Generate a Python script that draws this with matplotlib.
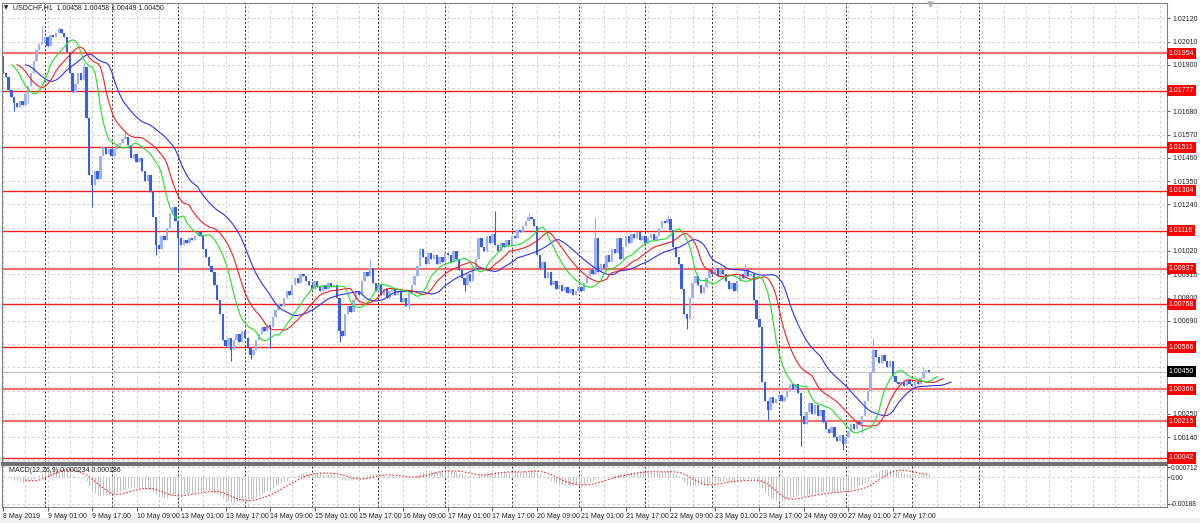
import matplotlib
matplotlib.use('Agg')
import matplotlib.pyplot as plt
import matplotlib.transforms as mtransforms
import numpy as np
import pandas as pd

# ---------------------------------------------------------------------------
# data
header_text = 'USDCHF,H1  1.00458 1.00458 1.00449 1.00450'
macd_text = 'MACD(12,26,9) 0.000234 0.000186'

first_open = 1.0194
closes = [
    1.0186, 1.0184, 1.0178, 1.0175, 1.0172, 1.0170, 1.0173, 1.0171, 1.0176, 1.0180,
    1.0186, 1.0192, 1.0197, 1.0200, 1.0201, 1.0203, 1.0199, 1.0204, 1.0203, 1.0205,
    1.0207, 1.0205, 1.0203, 1.0196, 1.0186, 1.0177, 1.0181, 1.0186, 1.0183, 1.0189,
    1.0165, 1.0138, 1.0133, 1.0140, 1.0136, 1.0147, 1.0151, 1.0148, 1.0150, 1.0147,
    1.0150, 1.0152, 1.0153, 1.0155, 1.0156, 1.0152, 1.0146, 1.0148, 1.0144, 1.0146,
    1.0140, 1.0135, 1.0138, 1.0130, 1.0118, 1.0105, 1.0103, 1.0109, 1.0107, 1.0113,
    1.0120, 1.0123, 1.0116, 1.0108, 1.0105, 1.0107, 1.0106, 1.0108, 1.0107, 1.0109,
    1.0111, 1.0109, 1.0103, 1.0099, 1.0095, 1.0092, 1.0086, 1.0079, 1.0072, 1.0060,
    1.0057, 1.0061, 1.0055, 1.0060, 1.0063, 1.0059, 1.0064, 1.0061, 1.0056, 1.0053,
    1.0055, 1.0060, 1.0063, 1.0066, 1.0064, 1.0067, 1.0066, 1.0071, 1.0074, 1.0077,
    1.0076, 1.0080, 1.0083, 1.0081, 1.0086, 1.0089, 1.0087, 1.0091, 1.0090, 1.0088,
    1.0086, 1.0084, 1.0088, 1.0085, 1.0083, 1.0086, 1.0084, 1.0087, 1.0085, 1.0086,
    1.0080, 1.0064, 1.0062, 1.0072, 1.0076, 1.0073, 1.0079, 1.0083, 1.0081, 1.0088,
    1.0092, 1.0090, 1.0094, 1.0087, 1.0083, 1.0086, 1.0081, 1.0084, 1.0080, 1.0083,
    1.0084, 1.0081, 1.0083, 1.0078, 1.0080, 1.0076, 1.0082, 1.0086, 1.0090, 1.0095,
    1.0103, 1.0099, 1.0096, 1.0101, 1.0098, 1.0100, 1.0096, 1.0099, 1.0097, 1.0101,
    1.0100, 1.0097, 1.0102, 1.0098, 1.0093, 1.0089, 1.0086, 1.0091, 1.0088, 1.0093,
    1.0098, 1.0108, 1.0104, 1.0102, 1.0109, 1.0106, 1.0110, 1.0105, 1.0102, 1.0106,
    1.0104, 1.0107, 1.0105, 1.0109, 1.0108, 1.0112, 1.0111, 1.0114, 1.0116, 1.0118,
    1.0117, 1.0114, 1.0100, 1.0094, 1.0097, 1.0089, 1.0092, 1.0086, 1.0088, 1.0084,
    1.0086, 1.0083, 1.0085, 1.0082, 1.0084, 1.0081, 1.0083, 1.0085, 1.0083, 1.0087,
    1.0090, 1.0093, 1.0091, 1.0108, 1.0092, 1.0096, 1.0094, 1.0100, 1.0097, 1.0103,
    1.0101, 1.0108, 1.0098, 1.0104, 1.0109, 1.0106, 1.0110, 1.0108, 1.0111, 1.0107,
    1.0109, 1.0106, 1.0108, 1.0110, 1.0107, 1.0109, 1.0113, 1.0116, 1.0115, 1.0117,
    1.0112, 1.0104, 1.0099, 1.0096, 1.0084, 1.0072, 1.0070, 1.0080, 1.0087, 1.0090,
    1.0086, 1.0082, 1.0085, 1.0089, 1.0093, 1.0091, 1.0094, 1.0090, 1.0093, 1.0091,
    1.0088, 1.0084, 1.0087, 1.0083, 1.0088, 1.0091, 1.0089, 1.0093, 1.0090, 1.0091,
    1.0079, 1.0070, 1.0066, 1.0040, 1.0031, 1.0027, 1.0033, 1.0030, 1.0032, 1.0034,
    1.0031, 1.0033, 1.0036, 1.0039, 1.0037, 1.0039, 1.0035, 1.0024, 1.0020, 1.0026,
    1.0030, 1.0025, 1.0029, 1.0024, 1.0027, 1.0021, 1.0018, 1.0016, 1.0019, 1.0014,
    1.0012, 1.0015, 1.0011, 1.0014, 1.0017, 1.0020, 1.0018, 1.0021, 1.0020, 1.0024,
    1.0031, 1.0036, 1.0045, 1.0055, 1.0052, 1.0049, 1.0053, 1.0050, 1.0047, 1.0050,
    1.0043, 1.0040, 1.0039, 1.0040, 1.0038, 1.0041, 1.0039, 1.0038, 1.0040, 1.0039,
    1.0042, 1.0045, 1.00458, 1.00450,
]

# long wicks that stick out of the bodies (bar index -> price)
spike_highs = {14: 1.0209, 20: 1.0208, 29: 1.0191, 44: 1.0158, 132: 1.0098,
               177: 1.0121, 189: 1.0120, 213: 1.0118, 239: 1.0119, 267: 1.0096,
               313: 1.0061, 331: 1.0047}
spike_lows = {4: 1.0168, 9: 1.0172, 32: 1.0123, 55: 1.0100, 63: 1.0092,
              82: 1.0050, 89: 1.0051, 96: 1.0056, 121: 1.0059, 146: 1.0074,
              166: 1.0083, 246: 1.0065, 275: 1.0022, 287: 1.0010, 302: 1.0008,
              309: 1.0016}

# horizontal levels drawn on the chart
levels = [1.01954, 1.01777, 1.01511, 1.01304, 1.01116, 1.00937,
          1.00768, 1.00566, 1.00366, 1.00215, 1.00042]
soft_levels = [1.01954, 1.00937, 1.00366, 1.00215]
bid_price = 1.00450

price_ticks = [1.02120, 1.02010, 1.01900, 1.01790, 1.01680, 1.01570, 1.01460,
               1.01350, 1.01240, 1.01130, 1.01020, 1.00910, 1.00800, 1.00690,
               1.00580, 1.00470, 1.00360, 1.00250, 1.00140, 1.00030]
macd_ticks = [0.000712, 0.0, -0.00188]
macd_tick_labels = ['0.000712', '0.00', '-0.00188']

# hourly bars, weekdays only
times = pd.date_range('2019-05-08 09:00', '2019-05-28 06:00', freq='h')
times = times[times.dayofweek < 5]

# ---------------------------------------------------------------------------
c = np.array(closes)
o = np.array([first_open] + closes[:-1])
n = len(c)
x = np.arange(n)
hi = np.maximum(o, c)
lo = np.minimum(o, c)
for k, v in spike_highs.items():
    hi[k] = max(hi[k], v)
for k, v in spike_lows.items():
    lo[k] = min(lo[k], v)

# alligator (SMMA of median price, shifted forward)
median = pd.Series((hi + lo) / 2)
jaw = median.ewm(alpha=1 / 13, adjust=False).mean()
teeth = median.ewm(alpha=1 / 8, adjust=False).mean()
lips = median.ewm(alpha=1 / 5, adjust=False).mean()

# MACD 12/26/9
cs = pd.Series(c)
macd_main = cs.ewm(span=12, adjust=False).mean() - cs.ewm(span=26, adjust=False).mean()
macd_signal = macd_main.rolling(9).mean()

plt.rcParams['font.family'] = ['Liberation Sans', 'DejaVu Sans']

W, H = 1200, 523
fig = plt.figure(figsize=(12, 5.23), dpi=100)
fig.patch.set_facecolor('white')

ax = fig.add_axes([2 / W, 1 - 463 / H, 1165 / W, 460 / H])
ax2 = fig.add_axes([2 / W, 1 - 507 / H, 1165 / W, 42 / H], sharex=ax)

x_max = 418.6
ax.set_xlim(-0.4, x_max)
ax.set_ylim(1.00018, 1.02192)
ax2.set_ylim(-0.00210, 0.00086)

grid_kw = dict(color='#c8c8c8', lw=0.6, ls=(0, (3, 3)), zorder=0)
sep_kw = dict(color='#303030', lw=0.7, ls=(0, (2, 2)), zorder=0.5)
for a in (ax, ax2):
    for gx in range(0, 419, 8):
        a.axvline(gx, **grid_kw)
    for sx in range(15, 352, 24):
        a.axvline(sx, **sep_kw)
for p in price_ticks:
    ax.axhline(p, **grid_kw)
for p in macd_ticks:
    ax2.axhline(p, **grid_kw)

# levels
for lv in levels:
    if lv in soft_levels:
        ax.axhline(lv, color='#f07070', lw=1.6, zorder=1)
    else:
        ax.axhline(lv, color='#f02020', lw=1.0, zorder=1)
ax.axhline(bid_price, color='#c0c0c0', lw=0.8, zorder=1)

# candles
bull = c >= o
colors = np.where(bull, '#9fb2ef', '#3a5ee0')
ax.vlines(x, lo, hi, colors=colors, lw=0.8, zorder=2)
body = np.maximum(np.abs(c - o), 0.00003)
ax.bar(x, body, bottom=np.minimum(o, c), width=0.85, color=colors, linewidth=0, zorder=2)

# alligator lines
ax.plot(x + 8, jaw, color='#3030f0', lw=0.8, zorder=3)
ax.plot(x + 5, teeth, color='#f02020', lw=0.8, zorder=3)
ax.plot(x + 3, lips, color='#20e020', lw=0.8, zorder=3)

# MACD panel
ax2.vlines(x, 0, macd_main, colors='#c0c0c0', lw=0.7, zorder=2)
ax2.plot(x, macd_signal, color='#f03030', lw=0.8, ls=(0, (1.5, 1.5)), zorder=3)

# axes styling
for a in (ax, ax2):
    a.set_facecolor('white')
    for s in a.spines.values():
        s.set_color('#808080')
        s.set_linewidth(0.8)
    a.yaxis.tick_right()
    a.tick_params(axis='y', direction='out', length=2.5, width=0.6, colors='#404040',
                  labelsize=5, pad=1.5)
ax2.tick_params(axis='y', length=2, pad=0.8, labelsize=4.8)
ax.spines['bottom'].set_linewidth(1.6)
ax.spines['bottom'].set_color('#707070')
ax2.spines['top'].set_linewidth(1.6)
ax2.spines['top'].set_color('#707070')

# price labels under a level box are hidden (the box covers them)
shown = []
for p in price_ticks:
    near = any(abs(p - lv) < 0.00022 for lv in levels + [bid_price])
    shown.append('' if near else '%.5f' % p)
ax.set_yticks(price_ticks)
ax.set_yticklabels(shown)
ax2.set_yticks(macd_ticks)
ax2.set_yticklabels(macd_tick_labels)
for lbl in ax.get_yticklabels() + ax2.get_yticklabels():
    lbl.set_color('#202020')

tick_pos = list(range(0, n, 16))
tick_lbl = []
for i in tick_pos:
    t = times[i]
    if i == 0:
        tick_lbl.append('%d %s' % (t.day, t.strftime('%b %Y')))
    else:
        tick_lbl.append('%d %s' % (t.day, t.strftime('%b %H:%M')))
ax.tick_params(axis='x', bottom=False, labelbottom=False)
ax2.set_xticks(tick_pos)
ax2.set_xticklabels(tick_lbl)
ax2.tick_params(axis='x', direction='out', length=3, width=0.6, colors='#404040',
                labelsize=5, pad=1.5)
for lbl in ax2.get_xticklabels():
    lbl.set_ha('left')
    lbl.set_color('#202020')

# price labels on the right axis
trans = mtransforms.blended_transform_factory(ax.transAxes, ax.transData)
for lv in levels:
    ax.text(1.0015, lv, '%.5f' % lv, transform=trans, color='white', fontsize=5,
            va='center', ha='left', clip_on=False, zorder=6,
            bbox=dict(boxstyle='square,pad=0.3', fc='#ff0000', ec='none'))
ax.text(1.0015, bid_price, '%.5f' % bid_price, transform=trans, color='white', fontsize=5,
        va='center', ha='left', clip_on=False, zorder=6,
        bbox=dict(boxstyle='square,pad=0.3', fc='#000000', ec='none'))

# shift marker
ax.plot([n - 0.5], [1.02185], marker='v', ms=3.5, color='#b0b0b0', clip_on=False, zorder=6)

# header texts
fig.text(4 / W, 1 - 8 / H, '\u25bc', fontsize=4, color='#202020', va='center',
         family='DejaVu Sans')
fig.text(13 / W, 1 - 8 / H, header_text, fontsize=5, color='#202020', va='center')
ax2.text(7 / 1165, 0.86, macd_text, transform=ax2.transAxes, fontsize=5,
         color='#202020', va='center', zorder=6)

# light strip along the bottom edge
fig.patches.append(plt.Rectangle((0, 0), 1, 5 / H, transform=fig.transFigure,
                                 fc='#f0f0f0', ec='none', zorder=-1))

fig.savefig('out.png', dpi=100)
